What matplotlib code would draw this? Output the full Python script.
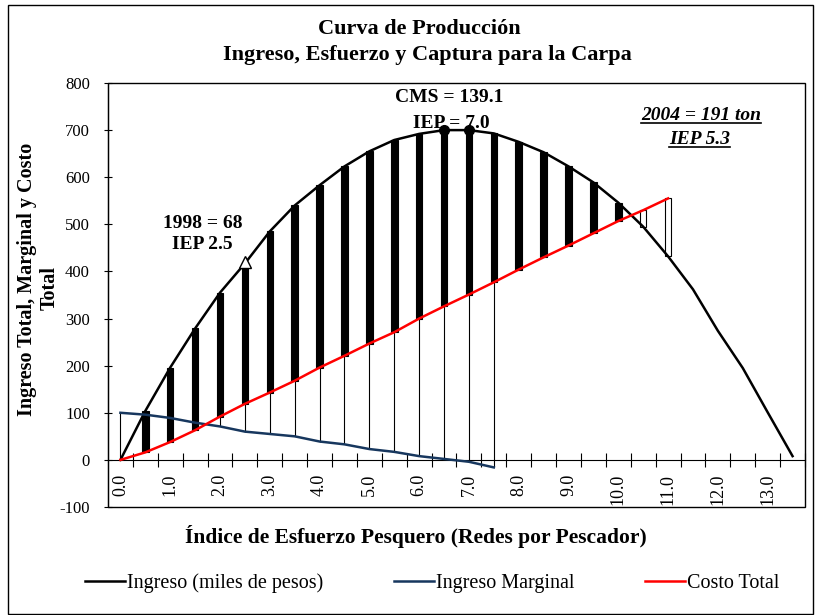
import matplotlib
matplotlib.use('Agg')
import matplotlib.pyplot as plt
from matplotlib.lines import Line2D
from matplotlib.patches import Rectangle
import numpy as np

plt.rcParams['font.family'] = ['Liberation Serif', 'DejaVu Serif']
plt.rcParams['axes.unicode_minus'] = False

# Data
esfuerzo = [0.0, 0.5, 1.0, 1.5, 2.0, 2.5, 3.0, 3.5, 4.0, 4.5, 5.0, 5.5, 6.0, 6.5,
            7.0, 7.5, 8.0, 8.5, 9.0, 9.5, 10.0, 10.5, 11.0, 11.5, 12.0, 12.5, 13.0, 13.5]
ingreso = [0, 104, 196, 279, 355, 417, 485, 540, 583, 623, 655, 679, 692, 700,
           700, 693, 675, 653, 623, 589, 546, 495, 432, 362, 274, 195, 101, 8]
ingreso_marginal = [100, 96, 89, 79, 71, 60, 55, 50, 39, 33, 23, 17, 8, 2, -4, -16]
costo_total = [0, 16, 38, 63, 92, 119, 143, 168, 196, 221, 247, 271, 300, 326,
               351, 377, 404, 430, 455, 481, 507, 530, 555]

punto_1998_x = [2.5]
punto_1998_y = [420]
cms_x = [6.5, 7.0]
cms_y = [701, 701]

x = np.array(esfuerzo)
ing = np.array(ingreso, dtype=float)
img = np.array(ingreso_marginal, dtype=float)
ct = np.array(costo_total, dtype=float)

fig = plt.figure(figsize=(8.2, 6.15), dpi=100)
ax = fig.add_axes([108/820, 1-507/615, 697/820, 424/615])

# High-low lines (max to min of all series at each category)
for i, xv in enumerate(x):
    vals = [ing[i]]
    if i < len(img):
        vals.append(img[i])
    if i < len(ct):
        vals.append(ct[i])
    if len(vals) > 1:
        ax.vlines(xv, min(vals), max(vals), color='black', lw=0.8, zorder=1)

# Up/down bars between Ingreso and Costo Total
for i in range(len(ct)):
    lo, hi = min(ing[i], ct[i]), max(ing[i], ct[i])
    if hi - lo <= 0:
        continue
    fc = 'black' if ing[i] > ct[i] else 'white'
    ax.bar(x[i], hi - lo, bottom=lo, width=0.13, color=fc, edgecolor='black',
           linewidth=0.8, zorder=2)

l1, = ax.plot(x, ing, color='black', lw=1.8, zorder=3, label='Ingreso (miles de pesos)')
l2, = ax.plot(x[:len(img)], img, color='#17375E', lw=1.8, zorder=3, label='Ingreso Marginal')
l3, = ax.plot(x[:len(ct)], ct, color='#FF0000', lw=1.8, zorder=3, label='Costo Total')

ax.plot(punto_1998_x, punto_1998_y, marker='^', ms=9, mfc='white', mec='black',
        mew=1, ls='none', zorder=4)
ax.plot(cms_x, cms_y, marker='o', ms=7, color='black', ls='none', zorder=4)

# Axes setup
ax.set_xlim(-0.25, 13.75)
ax.set_ylim(-100, 800)
ax.spines['bottom'].set_position(('data', 0))
ax.spines['top'].set_visible(False)
ax.spines['right'].set_visible(False)
ax.set_yticks(range(-100, 801, 100))
ax.set_xticks(np.arange(0, 14, 1.0))
ax.set_xticklabels([f'{v:.1f}' for v in np.arange(0, 14, 1.0)])
ax.set_xticks(np.arange(0.25, 13.8, 0.5), minor=True)
ax.tick_params(axis='x', which='major', length=0, pad=10, labelsize=13, labelrotation=90)
ax.tick_params(axis='x', which='minor', direction='inout', length=9.5, width=0.8)
ax.tick_params(axis='y', direction='inout', length=6, width=0.8, labelsize=12, pad=10)
ax.add_patch(Rectangle((0, 0), 1, 1, transform=ax.transAxes, fill=False,
                       lw=1.0, edgecolor='black', clip_on=False, zorder=5))

# Annotations
ax.text(1.65, 479, '1998 = 68\nIEP 2.5', ha='center', va='center', fontsize=14,
        fontweight='bold', linespacing=1.3)
ax.text(6.61, 770, 'CMS = 139.1', ha='center', va='center', fontsize=14, fontweight='bold')
ax.text(6.64, 715, 'IEP = 7.0', ha='center', va='center', fontsize=14, fontweight='bold', zorder=2)
t1 = ax.text(11.66, 732, '2004 = 191 ton', ha='center', va='center', fontsize=14,
             fontweight='bold', style='italic')
t2 = ax.text(11.63, 680, 'IEP 5.3', ha='center', va='center', fontsize=14,
             fontweight='bold', style='italic')

# Titles and labels
fig.text(419/820, 1-29/615, 'Curva de Producción', ha='center', va='center',
         fontsize=16, fontweight='bold')
fig.text(427/820, 1-55/615, 'Ingreso, Esfuerzo y Captura para la Carpa', ha='center',
         va='center', fontsize=16, fontweight='bold')
fig.text(27/820, 1-279/615, 'Ingreso Total, Marginal y Costo', ha='center',
         va='center', rotation=90, fontsize=14.5, fontweight='bold')
fig.text(50/820, 1-288/615, 'Total', ha='center',
         va='center', rotation=90, fontsize=14.5, fontweight='bold')
fig.text(416/820, 1-537/615, 'Índice de Esfuerzo Pesquero (Redes por Pescador)',
         ha='center', va='center', fontsize=15.5, fontweight='bold')

fig.legend(handles=[l1, l2, l3], loc='center', bbox_to_anchor=(432/820, 1-583/615),
           ncol=3, frameon=False, fontsize=14.5, handlelength=2.0, handletextpad=0.08,
           columnspacing=3.5)

# Outer chart border
fig.patches.append(Rectangle((8/820, 1/615), 805/820, 609/615, transform=fig.transFigure,
                             fill=False, lw=1.0, edgecolor='black'))

# Underline the 2004 annotation
fig.canvas.draw()
inv = fig.transFigure.inverted()
for t in (t1, t2):
    bb = t.get_window_extent()
    (x0, y0), (x1, _) = inv.transform([(bb.x0, bb.y0 + 1), (bb.x1, bb.y0 + 1)])
    fig.add_artist(Line2D([x0, x1], [y0, y0], color='black', lw=1.2, transform=fig.transFigure))

fig.savefig('out.png', dpi=100)
